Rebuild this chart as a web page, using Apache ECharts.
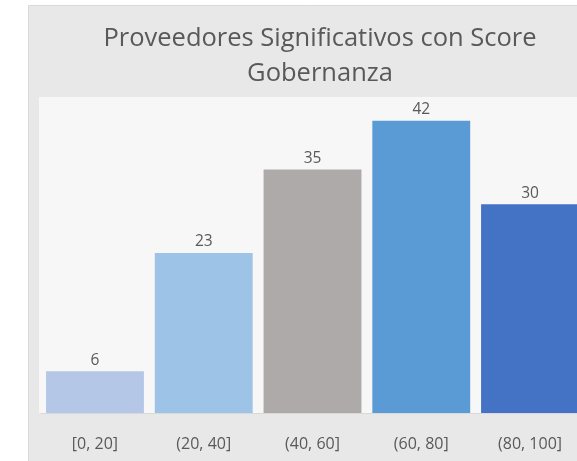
<!DOCTYPE html>
<html>
<head>
<meta charset="utf-8">
<script src="https://cdn.jsdelivr.net/npm/echarts@6/dist/echarts.min.js"></script>
<style>
  html, body { margin: 0; padding: 0; overflow: hidden; background: #ffffff; }
  #chart { width: 590px; height: 461px; }
</style>
</head>
<body>
<div id="chart"></div>
<script>
var categories = ['[0, 20]', '(20, 40]', '(40, 60]', '(60, 80]', '(80, 100]'];
var values = [6, 23, 35, 42, 30];
var barColors = ['#b4c7e7', '#9dc3e6', '#aeaaaa', '#5b9bd5', '#4472c4'];

var chart = echarts.init(document.getElementById('chart'));

var option = {
    backgroundColor: '#ffffff',
    animation: false,
    title: {
        text: 'Proveedores Significativos con Score\nGobernanza',
        left: 315,
        top: 16,
        textAlign: 'center',
        textStyle: {
            fontFamily: 'Open Sans',
            fontSize: 25.5,
            fontWeight: 'normal',
            color: '#595959',
            lineHeight: 35
        }
    },
    graphic: [
        {   // outer panel
            type: 'rect', z: -10, silent: true,
            shape: { x: 28.5, y: 5.5, width: 600, height: 500 },
            style: { fill: '#e8e8e8', stroke: '#d9d9d9', lineWidth: 1 }
        },
        {   // plot area
            type: 'rect', z: -9, silent: true,
            shape: { x: 39, y: 97, width: 600, height: 316 },
            style: { fill: '#f7f7f7' }
        }
    ],
    grid: {
        left: 40.6,
        right: 590 - 584.4,
        top: 100,
        bottom: 48
    },
    xAxis: {
        type: 'category',
        data: categories,
        axisLine: { show: true, lineStyle: { color: '#d9d9d9', width: 1 } },
        axisTick: { show: false },
        axisLabel: {
            fontFamily: 'Open Sans',
            fontSize: 16,
            color: '#595959',
            margin: 23
        }
    },
    yAxis: {
        type: 'value',
        min: 0,
        max: 45,
        show: false,
        splitLine: { show: false }
    },
    series: [{
        type: 'bar',
        barCategoryGap: '10%',
        data: values.map(function (v, i) {
            return { value: v, itemStyle: { color: barColors[i] } };
        }),
        label: {
            show: true,
            position: 'top',
            distance: 3,
            fontFamily: 'Open Sans',
            fontSize: 15.5,
            color: '#595959'
        }
    }]
};

chart.setOption(option);
</script>
</body>
</html>
